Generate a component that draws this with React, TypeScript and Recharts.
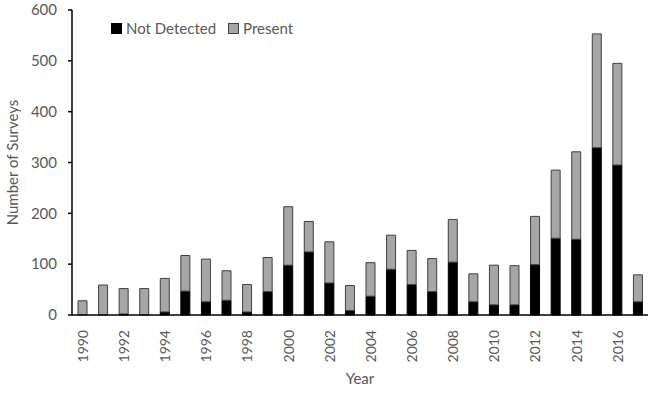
import React from 'react';
import { BarChart, Bar, XAxis, YAxis, Label } from 'recharts';

const years = [
  '1990', '1991', '1992', '1993', '1994', '1995', '1996', '1997', '1998', '1999',
  '2000', '2001', '2002', '2003', '2004', '2005', '2006', '2007', '2008', '2009',
  '2010', '2011', '2012', '2013', '2014', '2015', '2016', '2017',
];
const notDetected = [
  0, 0, 2, 0, 6, 47, 26, 29, 6, 46,
  98, 124, 63, 9, 37, 90, 60, 46, 104, 26,
  20, 20, 99, 151, 149, 329, 295, 26,
];
const totals = [
  28, 59, 52, 52, 72, 117, 110, 87, 60, 113,
  213, 184, 144, 58, 103, 157, 127, 111, 188, 81,
  98, 97, 194, 285, 321, 553, 495, 79,
];
const present = totals.map((t, i) => t - notDetected[i]);
const yTicks = [0, 100, 200, 300, 400, 500, 600];

const data = years.map((year, i) => ({
  year,
  notDetected: notDetected[i],
  present: present[i],
}));

const FONT = 'Lato, "Open Sans", sans-serif';
const TEXT = '#595959';

const YearTick = (props: any) => {
  const { x, y, payload } = props;
  return (
    <text
      x={x}
      y={y + 7}
      transform={`rotate(-90, ${x}, ${y + 7})`}
      textAnchor="end"
      dominantBaseline="central"
      fill={TEXT}
      fontSize={14}
      fontFamily={FONT}
    >
      {payload.value}
    </text>
  );
};

const LegendBox = () => (
  <div
    style={{
      position: 'absolute',
      left: 111,
      top: 19,
      display: 'flex',
      alignItems: 'center',
      fontFamily: FONT,
      fontSize: 15,
      color: TEXT,
      gap: 4,
    }}
  >
    <span style={{ width: 9, height: 9, background: '#000', border: '1px solid #000', display: 'inline-block' }} />
    <span style={{ marginRight: 8 }}>Not Detected</span>
    <span style={{ width: 9, height: 9, background: '#a6a6a6', border: '1px solid #404040', display: 'inline-block' }} />
    <span>Present</span>
  </div>
);

export default function App() {
  return (
    <div style={{ position: 'absolute', left: 0, top: 0, width: 650, height: 401, background: '#fff' }}>
      <BarChart
        width={650}
        height={401}
        data={data}
        margin={{ top: 10, right: 2, left: 0, bottom: 0 }}
        barCategoryGap="28%"
      >
        <XAxis
          dataKey="year"
          interval={1}
          tickLine={false}
          axisLine={{ stroke: '#000', strokeWidth: 1.5 }}
          tick={<YearTick />}
          height={86}
        >
          <Label value="Year" position="insideBottom" offset={17} fill={TEXT} fontSize={15} fontFamily={FONT} />
        </XAxis>
        <YAxis
          width={72}
          domain={[0, 600]}
          ticks={yTicks}
          tickSize={4}
          tickMargin={11}
          axisLine={{ stroke: '#000', strokeWidth: 1.5 }}
          tickLine={{ stroke: '#000', strokeWidth: 1.5 }}
          tick={{ fill: TEXT, fontSize: 15, fontFamily: FONT }}
        >
          <Label
            value="Number of Surveys"
            angle={-90}
            position="insideLeft"
            offset={13}
            style={{ textAnchor: 'middle' }}
            fill={TEXT}
            fontSize={15}
            fontFamily={FONT}
          />
        </YAxis>
        <Bar dataKey="notDetected" stackId="a" fill="#000" stroke="#000" strokeWidth={1} barSize={9} isAnimationActive={false} />
        <Bar dataKey="present" stackId="a" fill="#a6a6a6" stroke="#404040" strokeWidth={1} barSize={9} isAnimationActive={false} />
      </BarChart>
      <LegendBox />
    </div>
  );
}
